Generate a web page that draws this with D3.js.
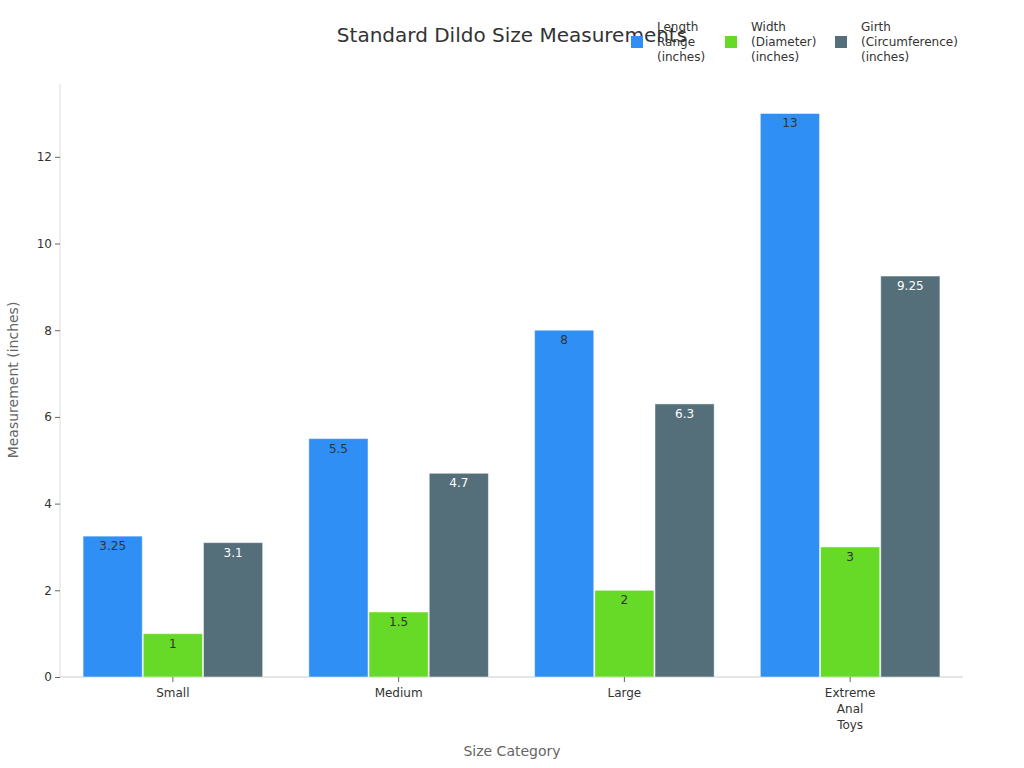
<!DOCTYPE html>
<html><head><meta charset="utf-8">
<script src="https://cdn.jsdelivr.net/npm/d3@7"></script>
<style>body{margin:0;background:#fff;font-family:"DejaVu Sans",sans-serif}</style>
</head><body><svg id="c" width="1024" height="768"></svg>
<script>
const categories=["Small","Medium","Large","Extreme Anal Toys"];
const categoryLines=[["Small"],["Medium"],["Large"],["Extreme","Anal","Toys"]];
const seriesNames=[["Length","Range","(inches)"],["Width","(Diameter)","(inches)"],["Girth","(Circumference)","(inches)"]];
const lengthVals=[3.25,5.5,8,13];
const widthVals=[1,1.5,2,3];
const girthVals=[3.1,4.7,6.3,9.25];
const yTicks=[0,2,4,6,8,10,12];
const colors=["#2f8ff5","#66da26","#546e7a"];
const labelColors=["#333","#333","#fff"];
const series=[lengthVals,widthVals,girthVals];

const svg=d3.select("#c");
const L=60,R=963,T=84,B=677;
const x=d3.scaleBand().domain(categories).range([L,R]).paddingInner(0.2).paddingOuter(0.1);
const xs=d3.scaleBand().domain([0,1,2]).range([0,x.bandwidth()]);
const y=d3.scaleLinear().domain([0,13.68]).range([B,T]);

svg.append("line").attr("x1",L).attr("x2",L).attr("y1",T).attr("y2",B).attr("stroke","#ddd");
svg.append("line").attr("x1",L).attr("x2",R).attr("y1",B).attr("y2",B).attr("stroke","#ccc");

const ya=svg.append("g").attr("transform",`translate(${L},0)`).call(d3.axisLeft(y).tickValues(yTicks).tickSize(5).tickFormat(d3.format("d")));
ya.select(".domain").remove();
ya.selectAll("line").attr("stroke","#666");
ya.selectAll("text").attr("font-size",12).attr("fill","#333").attr("font-family","DejaVu Sans");

categories.forEach((c,i)=>{
  series.forEach((s,j)=>{
    const bx=x(c)+xs(j), bw=xs.bandwidth();
    svg.append("rect").attr("x",bx+0.5).attr("y",y(s[i])).attr("width",bw-1).attr("height",B-y(s[i])).attr("fill",colors[j]).attr("stroke","#fff").attr("stroke-opacity",0.5);
    svg.append("text").attr("x",bx+bw/2).attr("y",y(s[i])+14).attr("text-anchor","middle").attr("font-size",12).attr("fill",labelColors[j]).text(s[i]);
  });
  const cx=x(c)+x.bandwidth()/2;
  svg.append("line").attr("x1",cx).attr("x2",cx).attr("y1",B).attr("y2",B+5).attr("stroke","#666");
  categoryLines[i].forEach((t,k)=>svg.append("text").attr("x",cx).attr("y",B+20+k*16).attr("text-anchor","middle").attr("font-size",12).attr("fill","#333").text(t));
});

svg.append("text").attr("x",512).attr("y",42).attr("text-anchor","middle").attr("font-size",20).attr("fill","#333").text("Standard Dildo Size Measurements");
svg.append("text").attr("x",512).attr("y",756).attr("text-anchor","middle").attr("font-size",14).attr("fill","#666").text("Size Category");
svg.append("text").attr("transform","translate(18,380) rotate(-90)").attr("text-anchor","middle").attr("font-size",14).attr("fill","#666").text("Measurement (inches)");

const lx=[631,725,835];
seriesNames.forEach((n,j)=>{
  svg.append("rect").attr("x",lx[j]).attr("y",36).attr("width",12).attr("height",12).attr("fill",colors[j]);
  n.forEach((t,k)=>svg.append("text").attr("x",lx[j]+26).attr("y",31+k*15).attr("font-size",12).attr("fill","#333").text(t));
});
</script></body></html>
